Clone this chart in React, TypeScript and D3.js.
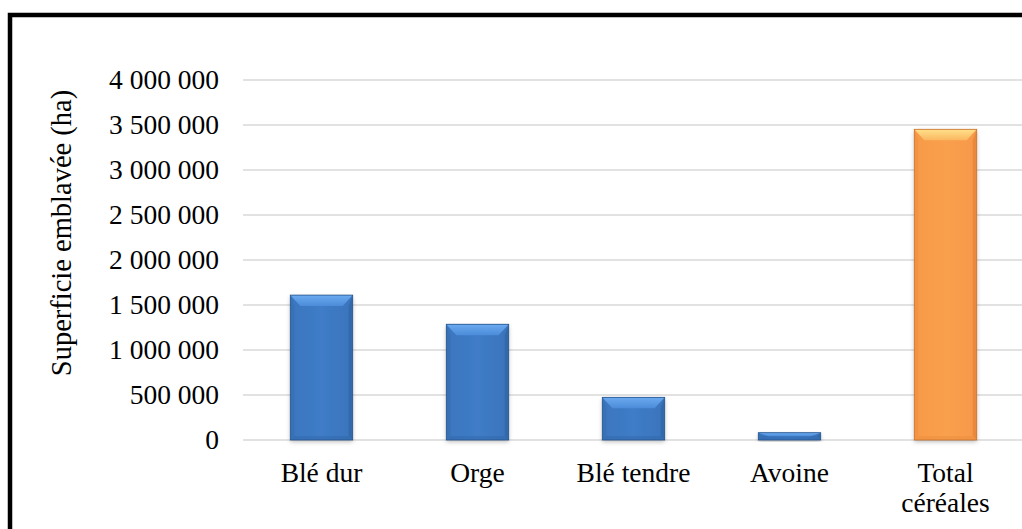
import React, { useEffect, useRef } from 'react'
import * as d3 from 'd3'

const categories = ['Blé dur', 'Orge', 'Blé tendre', 'Avoine', 'Total céréales']
const values = [1610000, 1286000, 474000, 81000, 3452000]
const yTicks = [0, 500000, 1000000, 1500000, 2000000, 2500000, 3000000, 3500000, 4000000]
const yTitle = 'Superficie emblavée (ha)'

const FONT = '"Liberation Serif", "Times New Roman", serif'

export default function App() {
  const svgRef = useRef<SVGSVGElement | null>(null)

  useEffect(() => {
    const width = 1022, height = 529
    const svg = d3.select(svgRef.current).attr('width', width).attr('height', height)
    svg.selectAll('*').remove()

    const defs = svg.append('defs')
    const mkGrad = (id: string, stops: [number, string][], vertical = false) => {
      const g = defs.append('linearGradient').attr('id', id)
        .attr('x1', 0).attr('y1', 0).attr('x2', vertical ? 0 : 1).attr('y2', vertical ? 1 : 0)
      stops.forEach(([o, c]) => g.append('stop').attr('offset', o).attr('stop-color', c))
    }
    mkGrad('blueBody', [[0, '#3b76bf'], [0.5, '#3f7cc7'], [1, '#3a74bc']])
    mkGrad('orangeBody', [[0, '#f89a48'], [0.5, '#f9a04d'], [1, '#f7984a']])
    mkGrad('blueTop', [[0, '#6cabf0'], [1, '#4b8bd8']], true)
    mkGrad('orangeTop', [[0, '#ffe08a'], [1, '#fbb660']], true)
    const shadow = defs.append('filter').attr('id', 'shadow').attr('x', '-20%').attr('y', '-20%').attr('width', '140%').attr('height', '140%')
    shadow.append('feDropShadow').attr('dx', 0).attr('dy', 2).attr('stdDeviation', 2).attr('flood-color', '#000').attr('flood-opacity', 0.25)

    // frame
    svg.append('rect').attr('x', 10).attr('y', 15).attr('width', 1040).attr('height', 560)
      .attr('fill', 'none').attr('stroke', '#000').attr('stroke-width', 4.5)

    const x = d3.scaleBand().domain(categories).range([243.5, 1023.5]).paddingInner(0.6).paddingOuter(0.3)
    const y = d3.scaleLinear().domain([0, 4000000]).range([440, 80])
    const fmt = d3.formatLocale({ decimal: ',', thousands: ' ', grouping: [3], currency: ['', ''] }).format(',d')

    // gridlines
    svg.append('g').selectAll('line').data(yTicks).join('line')
      .attr('x1', 243).attr('x2', width).attr('y1', d => y(d)).attr('y2', d => y(d))
      .attr('stroke', '#d9d9d9').attr('stroke-width', d => d === 0 ? 1.6 : 1.3)

    // y tick labels
    svg.append('g').selectAll('text').data(yTicks).join('text')
      .attr('x', 219).attr('y', d => y(d)).attr('dy', '0.33em').attr('text-anchor', 'end')
      .attr('font-family', FONT).attr('font-size', 27.5).attr('fill', '#000')
      .text(d => fmt(d))

    // y title
    svg.append('text').attr('transform', 'translate(71,233) rotate(-90)')
      .attr('text-anchor', 'middle').attr('font-family', FONT).attr('font-size', 28.5).attr('fill', '#000')
      .text(yTitle)

    // bars
    const bars = svg.append('g')
    categories.forEach((c, i) => {
      const x0 = x(c)!, w = x.bandwidth()
      const y0 = y(values[i]), y1 = y(0)
      const h = y1 - y0
      const orange = i === categories.length - 1
      const b = Math.min(11, h / 2), s = Math.min(10, w / 4), e = Math.min(4, w / 4)
      const g = bars.append('g')
      g.append('rect').attr('x', x0).attr('y', y0).attr('width', w).attr('height', h)
        .attr('fill', `url(#${orange ? 'orangeBody' : 'blueBody'})`).attr('filter', 'url(#shadow)')
      // side bevels
      g.append('path').attr('d', `M${x0},${y0}L${x0 + e},${y0 + b}L${x0 + e},${y1 - e}L${x0},${y1}Z`)
        .attr('fill', orange ? '#e8843a' : '#31679f').attr('opacity', 0.35)
      g.append('path').attr('d', `M${x0 + w},${y0}L${x0 + w - e},${y0 + b}L${x0 + w - e},${y1 - e}L${x0 + w},${y1}Z`)
        .attr('fill', orange ? '#d9762e' : '#2a5b93').attr('opacity', 0.45)
      // bottom bevel
      g.append('path').attr('d', `M${x0},${y1}L${x0 + e},${y1 - e}L${x0 + w - e},${y1 - e}L${x0 + w},${y1}Z`)
        .attr('fill', orange ? '#e58a3d' : '#2f64a4').attr('opacity', 0.4)
      // top bevel
      g.append('path').attr('d', `M${x0},${y0}L${x0 + w},${y0}L${x0 + w - s},${y0 + b}L${x0 + s},${y0 + b}Z`)
        .attr('fill', `url(#${orange ? 'orangeTop' : 'blueTop'})`)
      g.append('rect').attr('x', x0).attr('y', y0).attr('width', w).attr('height', h)
        .attr('fill', 'none').attr('stroke', orange ? '#c9722c' : '#25548c').attr('stroke-width', 0.8)
    })

    // x labels
    const xl = svg.append('g')
    categories.forEach(c => {
      const cx = x(c)! + x.bandwidth() / 2
      const words = c === 'Total céréales' ? ['Total', 'céréales'] : [c]
      const t = xl.append('text').attr('x', cx).attr('y', 482).attr('text-anchor', 'middle')
        .attr('font-family', FONT).attr('font-size', 27.5).attr('fill', '#000')
      words.forEach((wd, j) => t.append('tspan').attr('x', cx).attr('dy', j === 0 ? 0 : 30).text(wd))
    })
  }, [])

  return (
    <div style={{ position: 'absolute', left: 0, top: 0, width: 1022, height: 529, overflow: 'hidden', background: '#fff' }}>
      <svg ref={svgRef} style={{ display: 'block' }}></svg>
    </div>
  )
}
